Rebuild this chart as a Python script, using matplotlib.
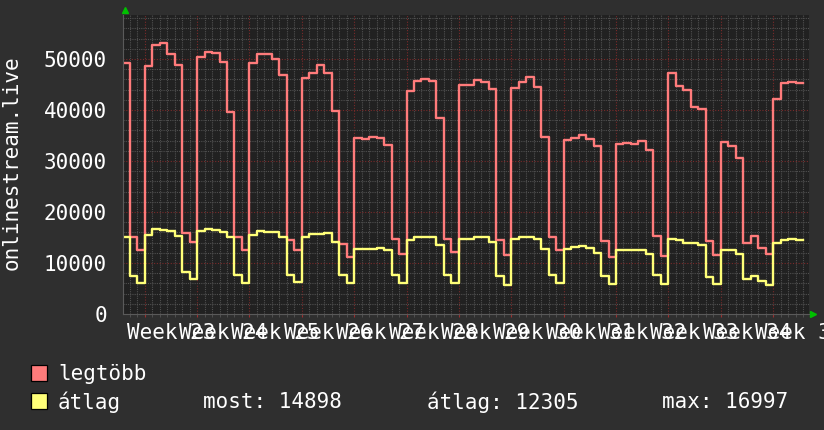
import numpy as np
import matplotlib
matplotlib.use("Agg")
import matplotlib.pyplot as plt
from matplotlib.patches import Rectangle

# napi adatok: péntek, szombat, vasárnap, majd a 23-35. hét (hétfőtől)
max_values = [49300, 15160, 12550,
              48630, 52680, 53200, 50980, 48820, 15820, 14180,
              50460, 51370, 51110, 49410, 39670, 15160, 12550,
              49280, 50980, 50980, 49930, 46860, 14510, 12550,
              46340, 47190, 48890, 47320, 39870, 13730, 11240,
              34510, 34250, 34770, 34440, 33140, 14710, 11760,
              43790, 45690, 46140, 45750, 38370, 14770, 12090,
              44900, 44900, 45880, 45490, 44140, 14510, 11630,
              44400, 45560, 46540, 44600, 34770, 15030, 12550,
              34120, 34510, 35160, 34250, 32950, 14250, 11240,
              33340, 33600, 33400, 33990, 32160, 15290, 11370,
              47320, 44770, 43920, 40650, 40260, 14250, 11570,
              33730, 33010, 30660, 13860, 15290, 12940, 11760,
              42220, 45230, 45560, 45360]

avg_values = [15030, 7520, 6090,
              15480, 16650, 16520, 16330, 15350, 8170, 6800,
              16330, 16590, 16460, 16000, 15160, 7650, 6020,
              15480, 16330, 16130, 16070, 15160, 7650, 6220,
              15030, 15620, 15750, 15810, 14050, 7650, 6090,
              12810, 12810, 12810, 13010, 12550, 7590, 6020,
              14510, 15030, 15160, 15160, 13530, 7650, 6020,
              14770, 14770, 15030, 15030, 14120, 7520, 5690,
              14710, 15030, 15030, 14770, 12680, 7650, 6090,
              12810, 13200, 13330, 12940, 11890, 7460, 5960,
              12610, 12480, 12610, 12610, 11760, 7590, 5960,
              14770, 14510, 13990, 13990, 13460, 7260, 5890,
              12550, 12550, 11700, 6930, 7460, 6480, 5760,
              13990, 14510, 14770, 14510]

week_labels = ["Week %d" % w for w in range(23, 36)]
legend_stats = {"most": 14898, "átlag": 12305, "max": 16997}

BG = "#2f2f2f"
CANVAS = "#212121"
RED = "#ff7b7b"
YELLOW = "#ffff78"
FONT = "DejaVu Sans Mono"

plt.rcParams["font.family"] = FONT
plt.rcParams["font.size"] = 15

fig = plt.figure(figsize=(8.24, 4.30), dpi=100, facecolor=BG)
W, H = 824, 430
ax = fig.add_axes([123 / W, (H - 314) / H, (809 - 123) / W, (314 - 15) / H])
ax.set_facecolor(CANVAS)

# 0. nap = a 23. hét hétfője
days = np.arange(-3, -3 + len(max_values) + 1)
ax.step(days, max_values + [max_values[-1]], where="post", color=RED, lw=1.7)
ax.step(days, avg_values + [avg_values[-1]], where="post", color=YELLOW, lw=1.7)

ax.set_xlim(-2.9, 88.8)
ax.set_ylim(0, 58630)

ax.set_xticks(np.arange(0, 85, 7))
ax.set_xticks(np.arange(-2, 89), minor=True)
ax.set_yticks(np.arange(0, 50001, 10000))
ax.set_yticks(np.arange(0, 58001, 2000), minor=True)
ax.set_xticklabels([])
ax.set_axisbelow(True)
ax.grid(which="minor", color="#505050", lw=0.8, ls=(0, (1, 1)))
ax.grid(which="major", color="#7a2a2a", lw=0.8, ls=(0, (1, 1.5)))

ax.tick_params(axis="y", which="both", length=0, pad=11.5, colors="white")
ax.tick_params(axis="x", which="major", length=2, color="#9a3030")
ax.tick_params(axis="x", which="minor", length=2, color="#555555")
for s in ("top", "right"):
    ax.spines[s].set_visible(False)
for s in ("left", "bottom"):
    ax.spines[s].set_color("#5a5a5a")
    ax.spines[s].set_linewidth(0.8)

# hétcímkék a hetek közepén
for k, lab in enumerate(week_labels):
    ax.text(3.5 + 7 * k, -0.03, lab, transform=ax.get_xaxis_transform(),
            ha="center", va="top", color="white", clip_on=False)

# zöld nyilak a tengelyek végén
ax.plot([0.003], [1.017], marker="^", color="#00c000", ms=4, transform=ax.transAxes, clip_on=False)
ax.plot([1.006], [0.0], marker=">", color="#00c000", ms=4, transform=ax.transAxes, clip_on=False)

fig.text(12 / W, 1 - 163 / H, "onlinestream.live", rotation=90, ha="center", va="center", color="white")

# jelmagyarázat
for yc, col, lab in [(373, RED, "legtöbb"), (401, YELLOW, "átlag")]:
    fig.patches.append(Rectangle((31 / W, 1 - (yc + 8) / H), 16 / W, 16 / H,
                                 transform=fig.transFigure, facecolor=col, edgecolor="black", lw=0.9))
    fig.text(58 / W, 1 - (yc + 1) / H, lab, ha="left", va="center", color="white")

for x, key in [(203, "most"), (427, "átlag"), (662, "max")]:
    fig.text(x / W, 1 - 402 / H, "%s: %d" % (key, legend_stats[key]), ha="left", va="center", color="white")

fig.savefig("out.png", dpi=100, facecolor=BG)
